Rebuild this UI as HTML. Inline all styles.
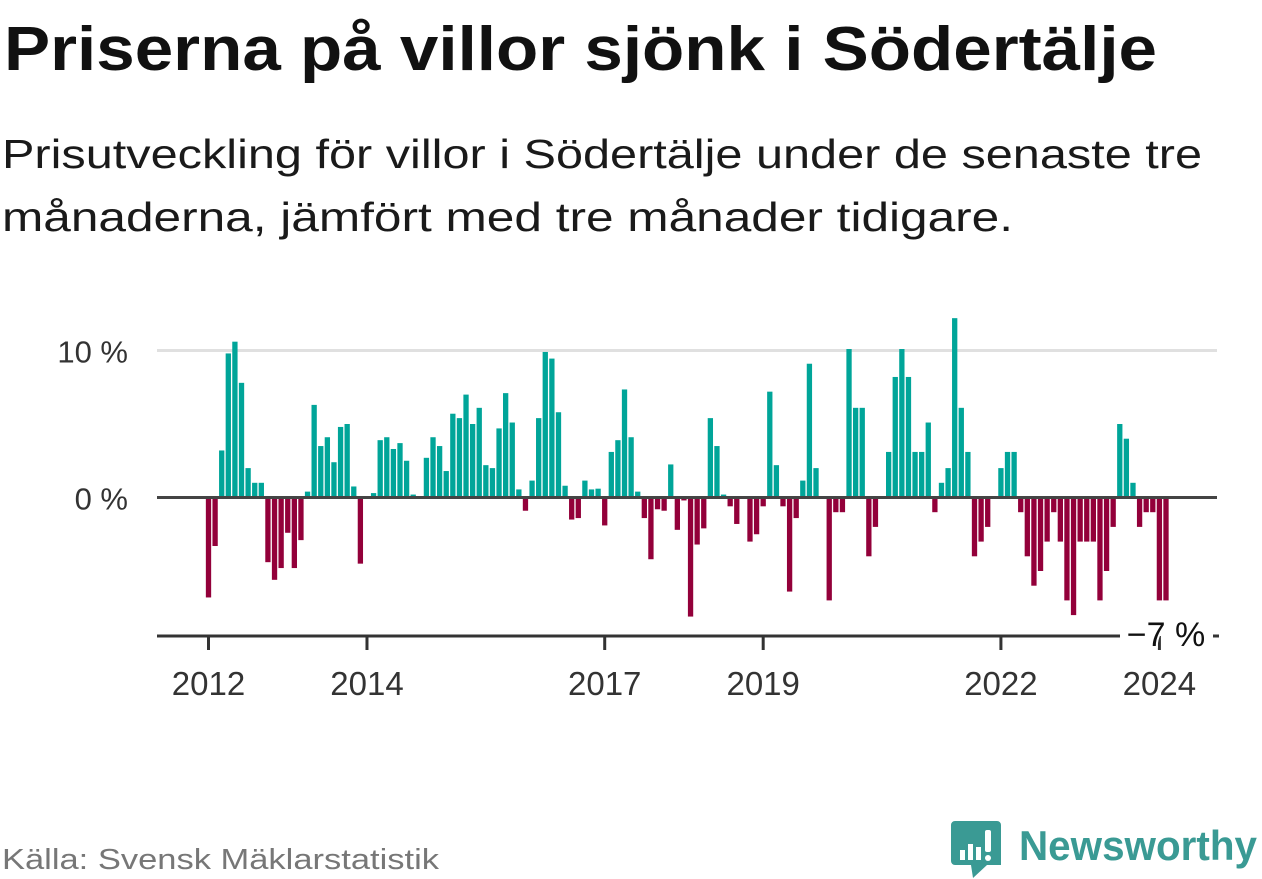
<!DOCTYPE html>
<html><head><meta charset="utf-8">
<style>
html,body{margin:0;padding:0;background:#fff;}
svg{display:block;font-family:"Liberation Sans",sans-serif;}
</style></head>
<body>
<svg id="chart" width="1262" height="879" viewBox="0 0 1262 879" xmlns="http://www.w3.org/2000/svg">
<text x="4" y="70" font-size="62" font-weight="bold" fill="#111" textLength="1153" lengthAdjust="spacingAndGlyphs">Priserna på villor sjönk i Södertälje</text>
<text x="2" y="168" font-size="41" fill="#1a1a1a" textLength="1200" lengthAdjust="spacingAndGlyphs">Prisutveckling för villor i Södertälje under de senaste tre</text>
<text x="2" y="231" font-size="41" fill="#1a1a1a" textLength="1011" lengthAdjust="spacingAndGlyphs">månaderna, jämfört med tre månader tidigare.</text>
<g id="grid"></g>
<g id="bars"></g>
<g id="axes"></g>
<text x="2" y="869" font-size="29" fill="#777" textLength="437" lengthAdjust="spacingAndGlyphs">Källa: Svensk Mäklarstatistik</text>
<g>
<path d="M955 821 h42 a4 4 0 0 1 4 4 v40 l-14 0 l-14 13 l-2 -13 h-16 a4 4 0 0 1 -4 -4 v-36 a4 4 0 0 1 4 -4z" fill="#3a9a94"/>
<rect x="960" y="850" width="5" height="10" fill="#fff"/>
<rect x="968" y="844" width="5" height="16" fill="#fff"/>
<rect x="976" y="847" width="5" height="13" fill="#fff"/>
<rect x="985" y="830" width="6" height="22" rx="2" fill="#fff"/>
<circle cx="988" cy="858" r="3" fill="#fff"/>
<text x="1019" y="860" font-size="42" font-weight="bold" fill="#3a9a94" textLength="238" lengthAdjust="spacingAndGlyphs">Newsworthy</text>
</g>
</svg>
<script>
const values = [-6.8,-3.3,3.2,9.8,10.6,7.8,2.0,1.0,1.0,-4.4,-5.6,-4.8,-2.4,-4.8,-2.9,0.4,6.3,3.5,4.1,2.4,4.8,5.0,0.75,-4.5,
0,0.3,3.9,4.1,3.3,3.7,2.5,0.2,0,2.7,4.1,3.5,1.8,5.7,5.4,7.0,5.0,6.1,2.2,2.0,4.7,7.1,5.1,0.55,
-0.9,1.15,5.4,9.9,9.45,5.8,0.8,-1.5,-1.4,1.15,0.55,0.6,-1.9,3.1,3.9,7.35,4.1,0.4,-1.4,-4.2,-0.8,-0.9,2.25,-2.2,
-0.2,-8.1,-3.2,-2.1,5.4,3.5,0.2,-0.6,-1.8,0,-3.0,-2.5,-0.6,7.2,2.2,-0.6,-6.4,-1.4,1.15,9.1,2.0,0,-7.0,-1.0,
-1.0,10.1,6.1,6.1,-4.0,-2.0,0,3.1,8.2,10.1,8.2,3.1,3.1,5.1,-1.0,1.0,2.0,12.2,6.1,3.1,-4.0,-3.0,-2.0,0,
2.0,3.1,3.1,-1.0,-4.0,-6.0,-5.0,-3.0,-1.0,-3.0,-7.0,-8.0,-3.0,-3.0,-3.0,-7.0,-5.0,-2.0,5.0,4.0,1.0,-2.0,-1.0,-1.0,
-7.0,-7.0];
const yTicks = [0, 10];
const yTickLabels = ["0 %", "10 %"];
const xTickMonths = [0, 24, 60, 84, 120, 144];
const xTickLabels = ["2012", "2014", "2017", "2019", "2022", "2024"];
const lastLabel = "−7 %";

const NS = "http://www.w3.org/2000/svg";
const x0 = 208.5, pitch = (1166 - 208.5) / 145;
const y0 = 497.5, pxPer = 14.7;
const xScale = i => x0 + i * pitch;
const yScale = v => y0 - v * pxPer;
function mk(tag, attrs){const e=document.createElementNS(NS,tag);for(const k in attrs)e.setAttribute(k,attrs[k]);return e;}

const grid = document.getElementById('grid');
yTicks.forEach((t,i)=>{
  if(t!==0){
    const l = mk('rect',{x:157,y:yScale(t)-1.5,width:1060,height:3,fill:'#e0e0e0'});
    
    
    grid.appendChild(l);
  }
  const tx = mk('text',{x:128,y:yScale(t)+12,'text-anchor':'end','font-size':31,fill:'#333'});
  tx.textContent = yTickLabels[i];
  
  
  grid.appendChild(tx);
});

const bars = document.getElementById('bars');
const bw = 5.3;
values.forEach((v,i)=>{
  if(v===0) return;
  const y = v>0 ? yScale(v) : y0;
  const h = Math.abs(v)*pxPer;
  const r = mk('rect',{x:xScale(i)-bw/2,y:y,width:bw,height:h,fill: v>0?'#00a599':'#93003a'});
  
  
  bars.appendChild(r);
});

const axes = document.getElementById('axes');
const zl = mk('rect',{x:157,y:y0-1.5,width:1060,height:3,fill:'#444'});


axes.appendChild(zl);
const ax = mk('rect',{x:157,y:634.5,width:963,height:3,fill:'#333'});


axes.appendChild(ax);
xTickMonths.forEach((m,i)=>{
  const t = mk('rect',{x:xScale(m)-1.5,y:636,width:3,height:14,fill:'#333'});
  
  
  axes.appendChild(t);
  const tx = mk('text',{x:xScale(m),y:695,'text-anchor':'middle','font-size':33,fill:'#333'});
  tx.textContent = xTickLabels[i];
  
  
  axes.appendChild(tx);
});
const lt = mk('text',{x:xScale(values.length-1),y:646,'text-anchor':'middle','font-size':34,fill:'#111',stroke:'#fff','stroke-width':4,'paint-order':'stroke'});
lt.textContent = lastLabel;


axes.appendChild(lt);
const dash = mk('rect',{x:1213,y:634.5,width:6,height:3,fill:'#333'});


axes.appendChild(dash);
</script>
</body></html>
